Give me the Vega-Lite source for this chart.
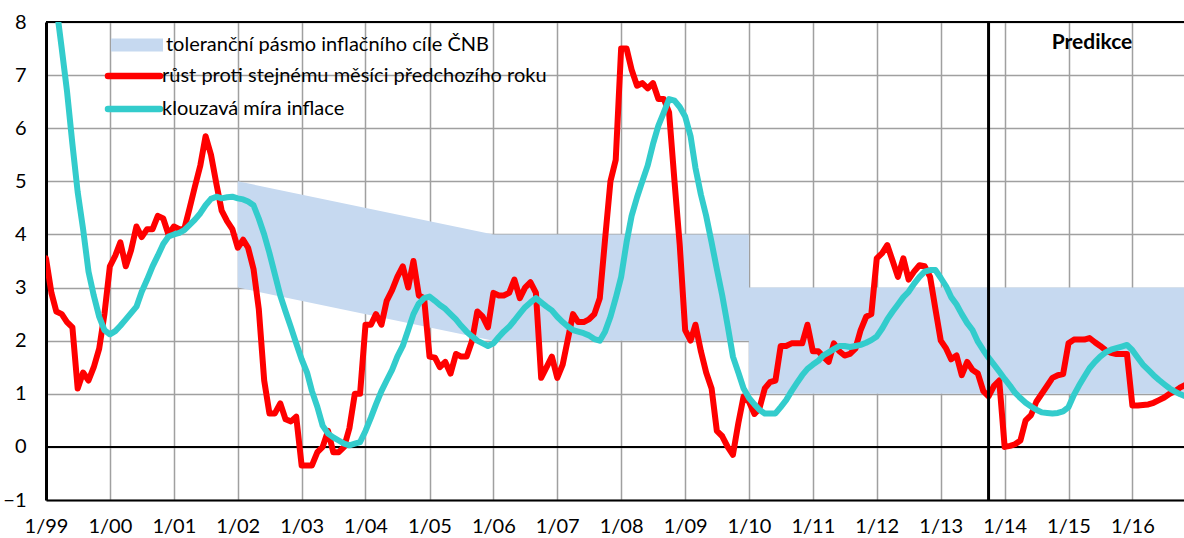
{
  "$schema": "https://vega.github.io/schema/vega-lite/v6.json",
  "width": 1138,
  "height": 478,
  "autosize": "none",
  "padding": {"left": 46, "top": 22, "right": 0, "bottom": 38},
  "background": "white",
  "config": {
    "view": {"stroke": null},
    "font": "Lato",
    "legend": {"labelFont": "Lato", "labelFontSize": 20, "labelColor": "black", "padding": 0, "titlePadding": 0, "labelLimit": 0}
  },
  "datasets": {
    "band": [
      {"d": "2002-01-01", "lo": 3, "hi": 5},
      {"d": "2006-01-01", "lo": 2, "hi": 4},
      {"d": "2009-12-31", "lo": 2, "hi": 4},
      {"d": "2010-01-01", "lo": 1, "hi": 3},
      {"d": "2016-12-01", "lo": 1, "hi": 3}
    ],
    "cpi": [
      {"d":"1999-01","r":3.55,"k":10.0},{"d":"1999-02","r":2.9,"k":9.1},{"d":"1999-03","r":2.55,"k":8.3},{"d":"1999-04","r":2.5,"k":7.5},{"d":"1999-05","r":2.35,"k":6.7},{"d":"1999-06","r":2.25,"k":5.7},{"d":"1999-07","r":1.1,"k":4.8},{"d":"1999-08","r":1.4,"k":4.1},{"d":"1999-09","r":1.25,"k":3.3},{"d":"1999-10","r":1.5,"k":2.85},{"d":"1999-11","r":1.85,"k":2.45},{"d":"1999-12","r":2.5,"k":2.2},
      {"d":"2000-01","r":3.4,"k":2.12},{"d":"2000-02","r":3.6,"k":2.18},{"d":"2000-03","r":3.85,"k":2.28},{"d":"2000-04","r":3.4,"k":2.4},{"d":"2000-05","r":3.7,"k":2.52},{"d":"2000-06","r":4.15,"k":2.64},{"d":"2000-07","r":3.95,"k":2.92},{"d":"2000-08","r":4.1,"k":3.15},{"d":"2000-09","r":4.1,"k":3.4},{"d":"2000-10","r":4.35,"k":3.6},{"d":"2000-11","r":4.3,"k":3.82},{"d":"2000-12","r":4.0,"k":3.96},
      {"d":"2001-01","r":4.15,"k":4.0},{"d":"2001-02","r":4.1,"k":4.03},{"d":"2001-03","r":4.1,"k":4.08},{"d":"2001-04","r":4.5,"k":4.18},{"d":"2001-05","r":4.9,"k":4.28},{"d":"2001-06","r":5.3,"k":4.4},{"d":"2001-07","r":5.85,"k":4.55},{"d":"2001-08","r":5.5,"k":4.67},{"d":"2001-09","r":4.95,"k":4.71},{"d":"2001-10","r":4.45,"k":4.68},{"d":"2001-11","r":4.25,"k":4.7},{"d":"2001-12","r":4.1,"k":4.71},
      {"d":"2002-01","r":3.75,"k":4.68},{"d":"2002-02","r":3.9,"k":4.66},{"d":"2002-03","r":3.75,"k":4.62},{"d":"2002-04","r":3.35,"k":4.55},{"d":"2002-05","r":2.6,"k":4.3},{"d":"2002-06","r":1.25,"k":4.0},{"d":"2002-07","r":0.63,"k":3.65},{"d":"2002-08","r":0.63,"k":3.25},{"d":"2002-09","r":0.82,"k":2.85},{"d":"2002-10","r":0.52,"k":2.55},{"d":"2002-11","r":0.48,"k":2.25},{"d":"2002-12","r":0.57,"k":1.95},
      {"d":"2003-01","r":-0.35,"k":1.65},{"d":"2003-02","r":-0.35,"k":1.4},{"d":"2003-03","r":-0.35,"k":1.05},{"d":"2003-04","r":-0.1,"k":0.75},{"d":"2003-05","r":0.0,"k":0.4},{"d":"2003-06","r":0.3,"k":0.25},{"d":"2003-07","r":-0.1,"k":0.18},{"d":"2003-08","r":-0.1,"k":0.12},{"d":"2003-09","r":0.0,"k":0.06},{"d":"2003-10","r":0.35,"k":0.03},{"d":"2003-11","r":1.0,"k":0.06},{"d":"2003-12","r":1.0,"k":0.09},
      {"d":"2004-01","r":2.3,"k":0.3},{"d":"2004-02","r":2.3,"k":0.55},{"d":"2004-03","r":2.5,"k":0.8},{"d":"2004-04","r":2.3,"k":1.05},{"d":"2004-05","r":2.75,"k":1.25},{"d":"2004-06","r":2.95,"k":1.45},{"d":"2004-07","r":3.2,"k":1.7},{"d":"2004-08","r":3.4,"k":1.9},{"d":"2004-09","r":3.0,"k":2.2},{"d":"2004-10","r":3.5,"k":2.5},{"d":"2004-11","r":2.85,"k":2.7},{"d":"2004-12","r":2.8,"k":2.8},
      {"d":"2005-01","r":1.7,"k":2.83},{"d":"2005-02","r":1.68,"k":2.75},{"d":"2005-03","r":1.5,"k":2.67},{"d":"2005-04","r":1.6,"k":2.6},{"d":"2005-05","r":1.38,"k":2.5},{"d":"2005-06","r":1.75,"k":2.4},{"d":"2005-07","r":1.7,"k":2.28},{"d":"2005-08","r":1.7,"k":2.17},{"d":"2005-09","r":2.0,"k":2.08},{"d":"2005-10","r":2.55,"k":2.0},{"d":"2005-11","r":2.45,"k":1.95},{"d":"2005-12","r":2.25,"k":1.9},
      {"d":"2006-01","r":2.9,"k":1.95},{"d":"2006-02","r":2.85,"k":2.07},{"d":"2006-03","r":2.85,"k":2.17},{"d":"2006-04","r":2.9,"k":2.26},{"d":"2006-05","r":3.15,"k":2.38},{"d":"2006-06","r":2.8,"k":2.51},{"d":"2006-07","r":3.0,"k":2.63},{"d":"2006-08","r":3.1,"k":2.72},{"d":"2006-09","r":2.9,"k":2.8},{"d":"2006-10","r":1.3,"k":2.72},{"d":"2006-11","r":1.5,"k":2.64},{"d":"2006-12","r":1.7,"k":2.57},
      {"d":"2007-01","r":1.3,"k":2.45},{"d":"2007-02","r":1.55,"k":2.35},{"d":"2007-03","r":2.0,"k":2.27},{"d":"2007-04","r":2.5,"k":2.2},{"d":"2007-05","r":2.35,"k":2.17},{"d":"2007-06","r":2.35,"k":2.14},{"d":"2007-07","r":2.4,"k":2.1},{"d":"2007-08","r":2.5,"k":2.03},{"d":"2007-09","r":2.8,"k":2.0},{"d":"2007-10","r":3.9,"k":2.17},{"d":"2007-11","r":5.0,"k":2.45},{"d":"2007-12","r":5.4,"k":2.8},
      {"d":"2008-01","r":7.5,"k":3.2},{"d":"2008-02","r":7.5,"k":3.85},{"d":"2008-03","r":7.1,"k":4.35},{"d":"2008-04","r":6.8,"k":4.7},{"d":"2008-05","r":6.85,"k":5.0},{"d":"2008-06","r":6.75,"k":5.3},{"d":"2008-07","r":6.85,"k":5.7},{"d":"2008-08","r":6.55,"k":6.05},{"d":"2008-09","r":6.55,"k":6.3},{"d":"2008-10","r":6.3,"k":6.55},{"d":"2008-11","r":5.0,"k":6.52},{"d":"2008-12","r":3.8,"k":6.4},
      {"d":"2009-01","r":2.2,"k":6.22},{"d":"2009-02","r":2.0,"k":5.85},{"d":"2009-03","r":2.3,"k":5.25},{"d":"2009-04","r":1.8,"k":4.75},{"d":"2009-05","r":1.4,"k":4.35},{"d":"2009-06","r":1.1,"k":3.85},{"d":"2009-07","r":0.3,"k":3.35},{"d":"2009-08","r":0.2,"k":2.85},{"d":"2009-09","r":0.0,"k":2.28},{"d":"2009-10","r":-0.15,"k":1.7},{"d":"2009-11","r":0.45,"k":1.4},{"d":"2009-12","r":0.95,"k":1.1},
      {"d":"2010-01","r":0.85,"k":0.92},{"d":"2010-02","r":0.62,"k":0.8},{"d":"2010-03","r":0.72,"k":0.7},{"d":"2010-04","r":1.1,"k":0.63},{"d":"2010-05","r":1.22,"k":0.63},{"d":"2010-06","r":1.25,"k":0.63},{"d":"2010-07","r":1.9,"k":0.75},{"d":"2010-08","r":1.9,"k":0.88},{"d":"2010-09","r":1.95,"k":1.05},{"d":"2010-10","r":1.95,"k":1.2},{"d":"2010-11","r":1.95,"k":1.35},{"d":"2010-12","r":2.3,"k":1.47},
      {"d":"2011-01","r":1.8,"k":1.55},{"d":"2011-02","r":1.8,"k":1.62},{"d":"2011-03","r":1.7,"k":1.72},{"d":"2011-04","r":1.6,"k":1.78},{"d":"2011-05","r":1.95,"k":1.84},{"d":"2011-06","r":1.8,"k":1.9},{"d":"2011-07","r":1.72,"k":1.9},{"d":"2011-08","r":1.75,"k":1.88},{"d":"2011-09","r":1.85,"k":1.9},{"d":"2011-10","r":2.2,"k":1.92},{"d":"2011-11","r":2.45,"k":1.96},{"d":"2011-12","r":2.5,"k":2.01},
      {"d":"2012-01","r":3.55,"k":2.08},{"d":"2012-02","r":3.65,"k":2.23},{"d":"2012-03","r":3.8,"k":2.4},{"d":"2012-04","r":3.5,"k":2.55},{"d":"2012-05","r":3.2,"k":2.68},{"d":"2012-06","r":3.55,"k":2.82},{"d":"2012-07","r":3.15,"k":2.92},{"d":"2012-08","r":3.3,"k":3.07},{"d":"2012-09","r":3.42,"k":3.2},{"d":"2012-10","r":3.4,"k":3.3},{"d":"2012-11","r":3.2,"k":3.33},{"d":"2012-12","r":2.6,"k":3.33},
      {"d":"2013-01","r":2.0,"k":3.18},{"d":"2013-02","r":1.85,"k":3.02},{"d":"2013-03","r":1.65,"k":2.82},{"d":"2013-04","r":1.72,"k":2.68},{"d":"2013-05","r":1.35,"k":2.5},{"d":"2013-06","r":1.6,"k":2.33},{"d":"2013-07","r":1.45,"k":2.2},{"d":"2013-08","r":1.38,"k":1.98},{"d":"2013-09","r":1.05,"k":1.82},{"d":"2013-10","r":0.95,"k":1.68},{"d":"2013-11","r":1.15,"k":1.55},{"d":"2013-12","r":1.25,"k":1.42},
      {"d":"2014-01","r":0.0,"k":1.28},{"d":"2014-02","r":0.02,"k":1.15},{"d":"2014-03","r":0.05,"k":1.02},{"d":"2014-04","r":0.12,"k":0.92},{"d":"2014-05","r":0.5,"k":0.83},{"d":"2014-06","r":0.6,"k":0.76},{"d":"2014-07","r":0.85,"k":0.7},{"d":"2014-08","r":1.0,"k":0.65},{"d":"2014-09","r":1.15,"k":0.64},{"d":"2014-10","r":1.3,"k":0.63},{"d":"2014-11","r":1.35,"k":0.64},{"d":"2014-12","r":1.37,"k":0.67},
      {"d":"2015-01","r":1.95,"k":0.75},{"d":"2015-02","r":2.02,"k":0.98},{"d":"2015-03","r":2.02,"k":1.15},{"d":"2015-04","r":2.02,"k":1.32},{"d":"2015-05","r":2.05,"k":1.48},{"d":"2015-06","r":1.97,"k":1.6},{"d":"2015-07","r":1.9,"k":1.7},{"d":"2015-08","r":1.82,"k":1.78},{"d":"2015-09","r":1.77,"k":1.83},{"d":"2015-10","r":1.75,"k":1.86},{"d":"2015-11","r":1.75,"k":1.89},{"d":"2015-12","r":1.75,"k":1.92},
      {"d":"2016-01","r":0.78,"k":1.82},{"d":"2016-02","r":0.78,"k":1.68},{"d":"2016-03","r":0.79,"k":1.55},{"d":"2016-04","r":0.8,"k":1.45},{"d":"2016-05","r":0.83,"k":1.35},{"d":"2016-06","r":0.88,"k":1.26},{"d":"2016-07","r":0.93,"k":1.18},{"d":"2016-08","r":1.0,"k":1.1},{"d":"2016-09","r":1.05,"k":1.04},{"d":"2016-10","r":1.12,"k":0.99},{"d":"2016-11","r":1.17,"k":0.95}
    ]
  },
  "layer": [
    {
      "data": {"name": "band"},
      "mark": {"type": "area", "opacity": 1, "clip": true},
      "encoding": {
        "x": {
          "field": "d", "type": "temporal",
          "scale": {"domain": [{"year": 1999, "month": 1, "date": 1}, {"year": 2016, "month": 10, "date": 22}], "nice": false},
          "axis": {
            "title": null, "tickCount": {"interval": "year", "step": 1},
            "labelExpr": "'1/' + timeFormat(datum.value, '%y')",
            "grid": true, "gridColor": "#a0a0a0", "gridWidth": 1.5,
            "domainColor": "black", "domainWidth": 2,
            "ticks": false, "tickSize": 0, "labelPadding": 16,
            "labelFont": "Lato", "labelFontSize": 20, "labelColor": "black",
            "labelFlush": false, "labelOverlap": false, "labelBound": false
          }
        },
        "y": {
          "field": "lo", "type": "quantitative",
          "scale": {"domain": [-1, 8], "nice": false, "zero": false},
          "axis": {
            "title": null, "values": [-1, 0, 1, 2, 3, 4, 5, 6, 7, 8],
            "grid": true, "gridColor": "#a0a0a0", "gridWidth": 1.5,
            "domainColor": "black", "domainWidth": 3,
            "ticks": false, "tickSize": 0, "labelPadding": 20,
            "labelFont": "Lato", "labelFontSize": 20, "labelColor": "black"
          }
        },
        "y2": {"field": "hi"},
        "fill": {
          "datum": "toleranční pásmo inflačního cíle ČNB",
          "scale": {"range": ["#c6d9f0"]},
          "legend": {
            "title": null, "orient": "none", "legendX": 81, "legendY": 13,
            "symbolType": "M-4,-1L4,-1L4,1L-4,1Z", "symbolSize": 169,
            "symbolStrokeWidth": 0, "symbolOpacity": 1, "labelOffset": 19
          }
        }
      }
    },
    {
      "data": {"values": [{}]},
      "mark": {"type": "rule", "color": "black", "strokeWidth": 2},
      "encoding": {"y": {"datum": 0}}
    },
    {
      "data": {"values": [{}]},
      "mark": {"type": "rule", "color": "black", "strokeWidth": 2},
      "encoding": {"y": {"datum": 8}}
    },
    {
      "data": {"name": "cpi"},
      "mark": {"type": "line", "strokeWidth": 6, "strokeJoin": "round", "strokeCap": "round", "clip": true},
      "encoding": {
        "x": {"field": "d", "type": "temporal"},
        "y": {"field": "r", "type": "quantitative"},
        "stroke": {
          "datum": "růst proti stejnému měsíci předchozího roku",
          "scale": {"domain": ["růst proti stejnému měsíci předchozího roku", "klouzavá míra inflace"], "range": ["#ff0000", "#33cccc"]},
          "legend": {
            "title": null, "orient": "none", "legendX": 78, "legendY": 44,
            "symbolType": "M-4,0L4,0", "symbolSize": 169, "symbolStrokeWidth": 6.5,
            "symbolFillColor": "transparent", "rowPadding": 7, "labelOffset": 18,
            "encode": {"symbols": {"update": {"strokeCap": {"value": "round"}}}}
          }
        }
      }
    },
    {
      "data": {"name": "cpi"},
      "mark": {"type": "line", "strokeWidth": 6, "strokeJoin": "round", "strokeCap": "round", "clip": true},
      "encoding": {
        "x": {"field": "d", "type": "temporal"},
        "y": {"field": "k", "type": "quantitative"},
        "stroke": {"datum": "klouzavá míra inflace"}
      }
    },
    {
      "data": {"values": [{}]},
      "mark": {"type": "rule", "color": "black", "strokeWidth": 3},
      "encoding": {"x": {"datum": {"year": 2013, "month": 10, "date": 1}}}
    },
    {
      "data": {"values": [{}]},
      "mark": {"type": "text", "font": "Lato", "fontSize": 21, "fontWeight": "bold", "color": "black", "align": "center", "baseline": "middle"},
      "encoding": {
        "x": {"datum": {"year": 2015, "month": 5, "date": 15}},
        "y": {"datum": 7.6},
        "text": {"value": "Predikce"}
      }
    }
  ]
}
